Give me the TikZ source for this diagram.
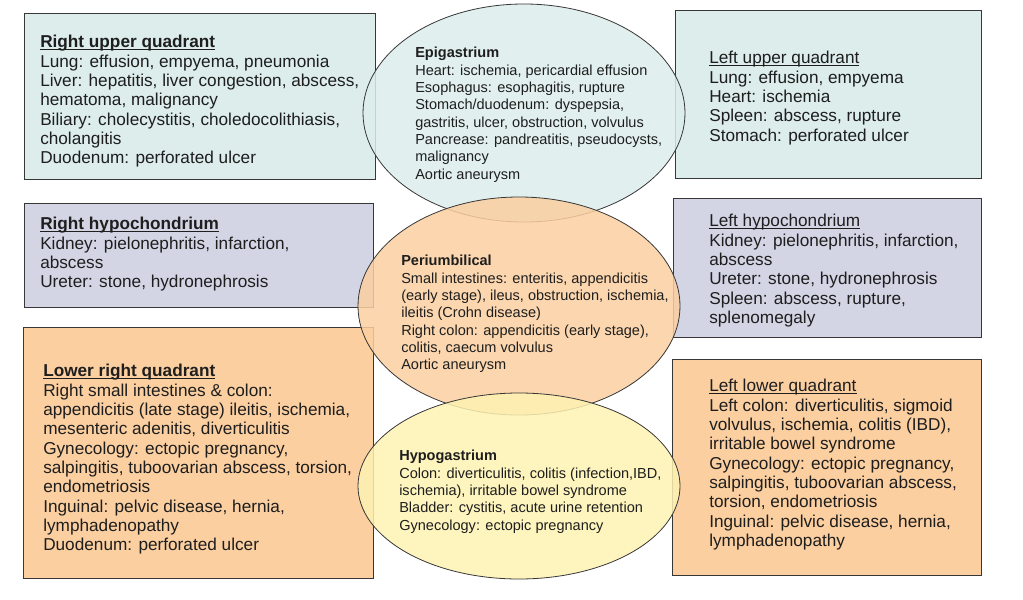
\documentclass[tikz,border=0pt]{standalone}
\usepackage{fontspec}
\setmainfont{Liberation Sans}
\usepackage{tikz}

\definecolor{upperfill}{RGB}{220,237,235}
\definecolor{hypofill}{RGB}{211,213,229}
\definecolor{lowerfill}{RGB}{251,207,160}
\definecolor{hypogfill}{RGB}{254,242,178}
\definecolor{edgegray}{RGB}{55,55,55}
\definecolor{inkgray}{RGB}{30,30,30}

\newcommand{\ulhead}[1]{\setbox0\hbox{#1}\rlap{\rule[-1.7pt]{\wd0}{0.6pt}}\box0}

\begin{document}
\begin{tikzpicture}[x=0.75pt,y=-0.75pt,
  region/.style={draw=edgegray,line width=0.6pt},
  zone/.style={draw=edgegray,line width=0.6pt,fill opacity=0.85},
  boxtext/.style={anchor=north west,inner sep=0pt,align=left,text=inkgray,
    font=\fontsize{12.9}{14.5}\selectfont},
  zonetext/.style={anchor=north west,inner sep=0pt,align=left,text=inkgray,
    font=\fontsize{10.9}{13}\selectfont}]
\useasboundingbox (0,0) rectangle (1023,599);

\draw[region,fill=upperfill] (24,13) rectangle (375,179);
\draw[region,fill=upperfill] (675,10) rectangle (981,178);
\draw[region,fill=hypofill] (24,203) rectangle (373,307);
\draw[region,fill=hypofill] (673,198) rectangle (981,337);
\draw[region,fill=lowerfill] (23,327) rectangle (373,578);
\draw[region,fill=lowerfill] (672,359) rectangle (981,575);

\node[boxtext] (ruq) at (40,35) {\ulhead{\textbf{Right upper quadrant}}\\
Lung: effusion, empyema, pneumonia\\
Liver: hepatitis, liver congestion, abscess,\\
hematoma, malignancy\\
Biliary: cholecystitis, choledocolithiasis,\\
cholangitis\\
Duodenum: perforated ulcer};
\node[boxtext] (luq) at (709,51) {\ulhead{Left upper quadrant}\\
Lung: effusion, empyema\\
Heart: ischemia\\
Spleen: abscess, rupture\\
Stomach: perforated ulcer};
\node[boxtext] (rhypo) at (40,217) {\ulhead{\textbf{Right hypochondrium}}\\
Kidney: pielonephritis, infarction,\\
abscess\\
Ureter: stone, hydronephrosis};
\node[boxtext] (lhypo) at (709,214) {\ulhead{Left hypochondrium}\\
Kidney: pielonephritis, infarction,\\
abscess\\
Ureter: stone, hydronephrosis\\
Spleen: abscess, rupture,\\
splenomegaly};
\node[boxtext] (rlq) at (43,364) {\ulhead{\textbf{Lower right quadrant}}\\
Right small intestines \& colon:\\
appendicitis (late stage) ileitis, ischemia,\\
mesenteric adenitis, diverticulitis\\
Gynecology: ectopic pregnancy,\\
salpingitis, tuboovarian abscess, torsion,\\
endometriosis\\
Inguinal: pelvic disease, hernia,\\
lymphadenopathy\\
Duodenum: perforated ulcer};
\node[boxtext] (llq) at (709,379) {\ulhead{Left lower quadrant}\\
Left colon: diverticulitis, sigmoid\\
volvulus, ischemia, colitis (IBD),\\
irritable bowel syndrome\\
Gynecology: ectopic pregnancy,\\
salpingitis, tuboovarian abscess,\\
torsion, endometriosis\\
Inguinal: pelvic disease, hernia,\\
lymphadenopathy};

\draw[zone,fill=upperfill] (524,113) ellipse [x radius=161,y radius=109];
\draw[zone,fill=lowerfill] (519,306) ellipse [x radius=161,y radius=109];
\draw[zone,fill=hypogfill] (519,486) ellipse [x radius=161,y radius=93];

\node[zonetext] (epi) at (415,47) {\textbf{Epigastrium}\\
Heart: ischemia, pericardial effusion\\
Esophagus: esophagitis, rupture\\
Stomach/duodenum: dyspepsia,\\
gastritis, ulcer, obstruction, volvulus\\
Pancrease: pandreatitis, pseudocysts,\\
malignancy\\
Aortic aneurysm};
\node[zonetext] (peri) at (401,255) {\textbf{Periumbilical}\\
Small intestines: enteritis, appendicitis\\
(early stage), ileus, obstruction, ischemia,\\
ileitis (Crohn disease)\\
Right colon: appendicitis (early stage),\\
colitis, caecum volvulus\\
Aortic aneurysm};
\node[zonetext] (hypog) at (399,450) {\textbf{Hypogastrium}\\
Colon: diverticulitis, colitis (infection,IBD,\\
ischemia), irritable bowel syndrome\\
Bladder: cystitis, acute urine retention\\
Gynecology: ectopic pregnancy};
\end{tikzpicture}
\end{document}
